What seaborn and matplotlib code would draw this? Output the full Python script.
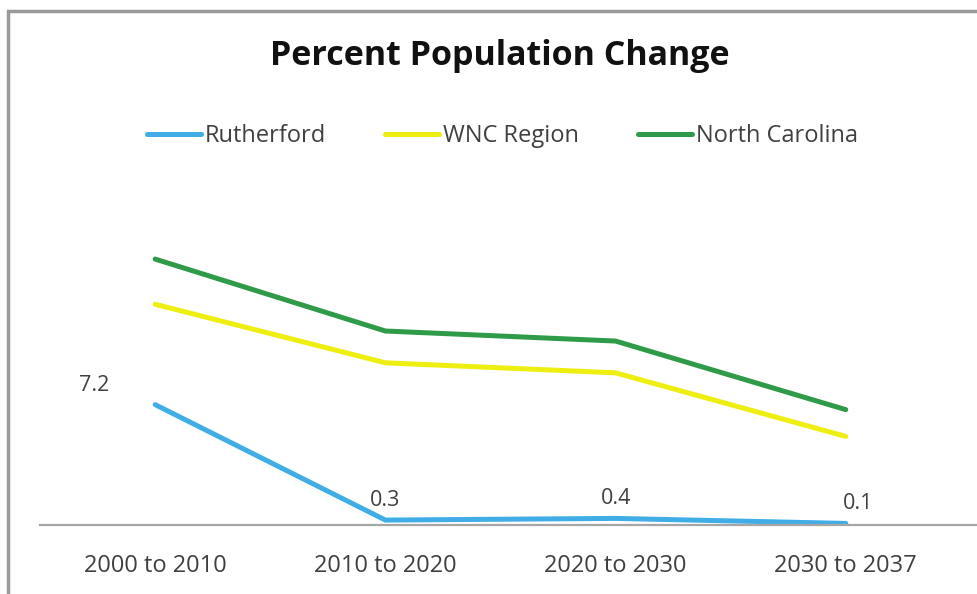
import numpy as np
import pandas as pd
import matplotlib.pyplot as plt
import seaborn as sns
from matplotlib.patches import Rectangle

# ------------------------DATA-------------------------
periods = ["2000 to 2010", "2010 to 2020", "2020 to 2030", "2030 to 2037"]
rutherford = [7.2, 0.3, 0.4, 0.1]
wnc_region = [13.2, 9.7, 9.1, 5.3]
north_carolina = [15.9, 11.6, 11.0, 6.9]

series_names = ["Rutherford", "WNC Region", "North Carolina"]
series_colors = ["#41ade6", "#eeee10", "#2f9a48"]

df = pd.DataFrame({
    "Period": periods * 3,
    "Change": rutherford + wnc_region + north_carolina,
    "Area": [n for n in series_names for _ in periods],
})

# ------------------------PLOT-------------------------
sns.set_style("white")
plt.rcParams["font.family"] = ["Open Sans", "DejaVu Sans"]

fig = plt.figure(figsize=(9.77, 5.94), dpi=100)
ax = fig.add_axes([0.041, 0.116, 0.959, 0.507])

sns.lineplot(data=df, x="Period", y="Change", hue="Area", sort=False,
             palette=series_colors, linewidth=3.6, ax=ax, legend=False)

ax.set_ylim(0, 18)
ax.set_xlim(-0.5, 3.57)
ax.set_yticks([])
ax.set_xlabel("")
ax.set_ylabel("")
for side in ["top", "right", "left"]:
    ax.spines[side].set_visible(False)
ax.spines["bottom"].set_color("#a6a6a6")
ax.spines["bottom"].set_linewidth(1.6)
ax.tick_params(axis="x", length=0, labelsize=17, colors="#404040", pad=21)

# Rutherford data labels
for i, v in enumerate(rutherford):
    if i == 0:
        dx = -76
    elif i == 3:
        dx = 12
    else:
        dx = 0
    ha = "left" if i == 0 else "center"
    ax.annotate(f"{v}", (i, v), xytext=(dx, 9), textcoords="offset pixels",
                ha=ha, va="bottom", fontsize=15.5, color="#404040")

# legend
handles = [plt.Line2D([], [], color=c, linewidth=3.6) for c in series_colors]
fig.legend(handles, series_names, loc="center", bbox_to_anchor=(0.514, 0.771),
           ncol=3, frameon=False, fontsize=17, handlelength=2.3,
           handletextpad=0.15, columnspacing=2.5, labelcolor="#404040")

fig.suptitle("Percent Population Change", x=0.512, y=0.935, fontsize=24.5,
             fontweight="bold", color="#111111")

# screenshot frame at top and left
fig.add_artist(Rectangle((0.008, -0.2), 1.2, 1.181, transform=fig.transFigure,
                         fill=False, edgecolor="#9a9a9a", linewidth=2.5))

plt.savefig("out.png", dpi=100)
